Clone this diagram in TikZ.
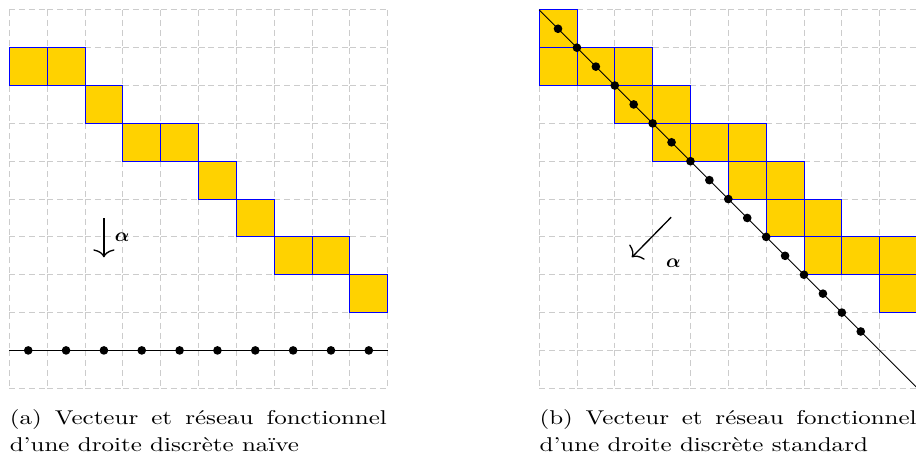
\documentclass[tikz,border=0pt]{standalone}
\usepackage{amsmath, amssymb}
\usepackage{xcolor}
\usetikzlibrary{positioning, arrows.meta}
\definecolor{cellgold}{RGB}{255,210,0}

\begin{document}
\begin{tikzpicture}[
    gridcell/.style={gray!40, line width=0.6pt, dash pattern=on 4.5pt off 3pt},
    pixel/.style={fill=cellgold, draw=blue, line width=0.6pt},
    axisline/.style={black, line width=0.7pt},
    dot/.style={circle, fill=black, inner sep=0pt, minimum size=6.5pt},
    vec/.style={line width=1pt, -{To[length=6pt,width=16pt]}},
    veclabel/.style={inner sep=0pt, font=\fontsize{14}{16}\selectfont},
    subcap/.style={anchor=base west, inner sep=0pt, text width=5.30cm, align=justify,
      font=\fontsize{10}{13.5}\selectfont, xscale=1.88, yscale=1.5, transform shape}]
    \useasboundingbox (-0.246,-1.83) rectangle (23.96,10.26);

    % dashed grids
    \foreach \i in {0,...,9}
      \foreach \j in {0,...,10} {
        \draw[gridcell] (\i,\j) -- ++(1,0);
        \draw[gridcell] (\j,\i+1) -- ++(0,-1);
        \draw[gridcell] (\i+14,\j) -- ++(1,0);
        \draw[gridcell] (\j+14,\i+1) -- ++(0,-1);
      }

    % naive line
    \foreach \x/\y in {0/8,1/8,2/7,3/6,4/6,5/5,6/4,7/3,8/3,9/2}
      \draw[pixel] (\x,\y) rectangle ++(1,1);
    \coordinate (ha) at (0,1);
    \coordinate (hb) at (10,1);
    \draw[axisline] (ha) -- (hb);
    \foreach \i in {0,...,9}
      \node[dot] (h\i) at (\i+0.5,1) {};
    \coordinate (va) at (2.5,4.49);
    \coordinate (vb) at (2.5,3.46);
    \draw[vec] (va) -- (vb);
    \node[veclabel] (alphaa) at (2.98,4.0) {$\boldsymbol{\alpha}$};

    % standard line
    \foreach \x/\y in {0/9,0/8,1/8,2/8,2/7,3/7,3/6,4/6,5/6,5/5,6/5,6/4,7/4,7/3,8/3,9/3,9/2}
      \draw[pixel] (\x+14,\y) rectangle ++(1,1);
    \coordinate (da) at (14,10);
    \coordinate (db) at (24,0);
    \draw[axisline] (da) -- (db);
    \foreach \t in {1,...,17}
      \node[dot] (d\t) at ({14+\t/2},{10-\t/2}) {};
    \coordinate (wa) at (17.49,4.52);
    \coordinate (wb) at (16.45,3.46);
    \draw[vec] (wa) -- (wb);
    \node[veclabel] (alphab) at (17.55,3.3) {$\boldsymbol{\alpha}$};

    % captions
    \node[subcap] (capa) at (0,-0.96) {(a) Vecteur et réseau fonctionnel d'une droite discrète naïve};
    \node[subcap] (capb) at (14,-0.96) {(b) Vecteur et réseau fonctionnel d'une droite discrète standard};
\end{tikzpicture}
\end{document}
